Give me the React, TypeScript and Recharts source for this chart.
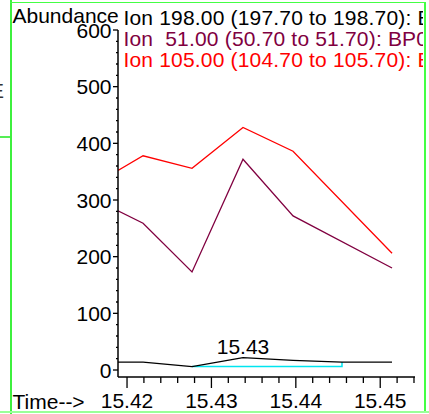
import React from "react";
import { LineChart, Line, XAxis, YAxis, ReferenceDot } from "recharts";

// ---- data ----
const times = [15.41893, 15.4219, 15.4277, 15.43374, 15.43967, 15.44547, 15.4514];
const ion198 = [14, 14, 6, 22, 17, 14, 14];
const ion51: (number | null)[] = [281, 259, 173, 372, 272, null, 180];
const ion105: (number | null)[] = [352, 378, 356, 428, 386, null, 206];

const baselineTimes = [15.4277, 15.44547, 15.44547];
const baselineValues = [6, 6, 14];

const peakLabel = "15.43";
const peakIndex = 3;

const seriesNames = [
  "Ion 198.00 (197.70 to 198.70): B",
  "Ion  51.00 (50.70 to 51.70): BP0",
  "Ion 105.00 (104.70 to 105.70): B",
];
const seriesColors = ["#000000", "#800040", "#ff0000"];

const yTicks = [
  0, 20, 40, 60, 80, 100, 120, 140, 160, 180, 200, 220, 240, 260, 280, 300,
  320, 340, 360, 380, 400, 420, 440, 460, 480, 500, 520, 540, 560, 580, 600,
];
const xTicks = [
  15.42, 15.422, 15.424, 15.426, 15.428, 15.43, 15.432, 15.434, 15.436, 15.438,
  15.44, 15.442, 15.444, 15.446, 15.448, 15.45, 15.452, 15.454,
];
const xMajorLabels = ["15.42", "15.43", "15.44", "15.45"];

const rows = times.map((t, i) => ({
  t,
  a: ion198[i],
  b: ion51[i],
  c: ion105[i],
}));
const baselineRows = baselineTimes.map((t, i) => ({ t, v: baselineValues[i] }));

const FONT = "'Liberation Sans', Arial, Helvetica, sans-serif";
const FS = 21;

const YTick = (props: any) => {
  const { x, y, payload } = props;
  const v = payload.value;
  const major = v % 100 === 0;
  return (
    <g>
      <line x1={x - (major ? 5 : 2)} x2={x} y1={y} y2={y} stroke="#000" strokeWidth={1.3} />
      {major && (
        <text x={x - 6.5} y={y} dy="0.36em" textAnchor="end" fontSize={FS} fontFamily={FONT} fill="#000">
          {String(v)}
        </text>
      )}
    </g>
  );
};

const XTick = (props: any) => {
  const { x, y, payload } = props;
  const v: number = payload.value;
  const label = v.toFixed(2);
  const major = Math.abs(v * 100 - Math.round(v * 100)) < 1e-6 && xMajorLabels.includes(label);
  return (
    <g>
      <line x1={x} x2={x} y1={y} y2={y + (major ? 11 : 6)} stroke="#000" strokeWidth={1.3} />
      {major && (
        <text x={x} y={y + 31} textAnchor="middle" fontSize={FS} fontFamily={FONT} fill="#000">
          {label}
        </text>
      )}
    </g>
  );
};

const textStyle: React.CSSProperties = {
  position: "absolute",
  fontFamily: FONT,
  fontSize: FS,
  lineHeight: "21px",
  whiteSpace: "pre",
};

export default function App() {
  return (
    <div
      style={{
        position: "absolute",
        left: 0,
        top: 0,
        width: 429,
        height: 414,
        background: "#fff",
        overflow: "hidden",
      }}
    >
      {/* clipped stray glyph at far left */}
      <div style={{ ...textStyle, left: -10, top: 79.5, color: "#333" }}>E</div>

      <div style={{ position: "absolute", left: 0, top: 0, width: 422.5, height: 414, overflow: "hidden" }}>
        <LineChart
          width={422}
          height={414}
          data={rows}
          margin={{ top: 30, right: 7, bottom: 0, left: 0 }}
        >
          <XAxis
            dataKey="t"
            type="number"
            domain={[15.41893, 15.45412]}
            allowDataOverflow
            ticks={xTicks}
            interval={0}
            height={37}
            tickSize={0}
            tickMargin={0}
            tickLine={false}
            axisLine={{ stroke: "#000", strokeWidth: 1.5 }}
            tick={<XTick />}
          />
          <YAxis
            type="number"
            domain={[-12.35, 600]}
            allowDataOverflow
            ticks={yTicks}
            interval={0}
            width={118}
            tickSize={0}
            tickMargin={0}
            tickLine={false}
            axisLine={{ stroke: "#000", strokeWidth: 1.5 }}
            tick={<YTick />}
          />
          <Line
            data={baselineRows}
            dataKey="v"
            type="linear"
            stroke="#00e5f0"
            strokeWidth={1.5}
            dot={false}
            isAnimationActive={false}
          />
          <Line dataKey="a" type="linear" stroke={seriesColors[0]} strokeWidth={1.3} dot={false} isAnimationActive={false} />
          <Line dataKey="b" type="linear" stroke={seriesColors[1]} strokeWidth={1.3} dot={false} connectNulls isAnimationActive={false} />
          <Line dataKey="c" type="linear" stroke={seriesColors[2]} strokeWidth={1.3} dot={false} connectNulls isAnimationActive={false} />
          <ReferenceDot
            x={times[peakIndex]}
            y={ion198[peakIndex]}
            r={0}
            fill="none"
            stroke="none"
            label={{ value: peakLabel, position: "top", offset: 4, fontSize: FS, fontFamily: FONT, fill: "#000" }}
          />
        </LineChart>

        <div style={{ ...textStyle, left: 12.5, top: 4.9, color: "#000" }}>Abundance</div>
        {seriesNames.map((name, i) => (
          <div
            key={name}
            style={{ ...textStyle, left: 123.5, top: 7.2 + i * 20.9, color: seriesColors[i], letterSpacing: "0.18px" }}
          >
            {name}
          </div>
        ))}
        <div style={{ ...textStyle, left: 12.5, top: 390.5, color: "#000" }}>Time--&gt;</div>
      </div>

      {/* window frame lines */}
      <div style={{ position: "absolute", left: 10, top: 0, width: 2, height: 414, background: "#3ef03e" }} />
      <div style={{ position: "absolute", left: 0, top: 136, width: 10, height: 1.5, background: "#55ee55" }} />
      <div style={{ position: "absolute", left: 10, top: 1.5, width: 416, height: 1.5, background: "#44ff44" }} />
      <div style={{ position: "absolute", left: 424, top: 1.5, width: 1.5, height: 411, background: "#44ff44" }} />
      <div style={{ position: "absolute", left: 0, top: 411, width: 429, height: 2, background: "#99ff99" }} />
    </div>
  );
}
